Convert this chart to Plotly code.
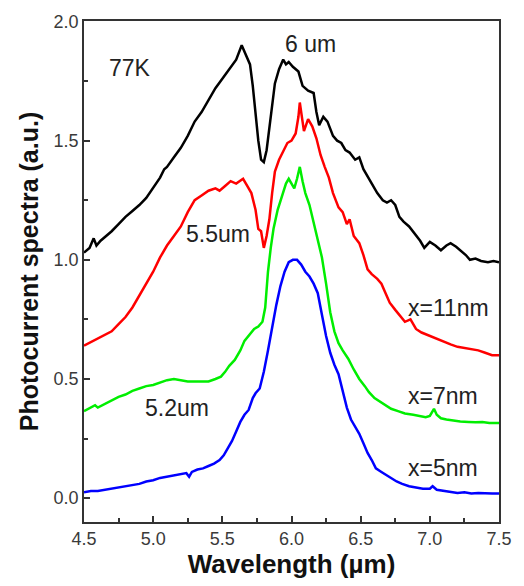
import plotly.graph_objects as go

black_x = [4.50,4.54,4.57,4.59,4.62,4.66,4.70,4.75,4.80,4.85,4.90,4.95,5.00,5.05,5.08,5.10,5.15,5.20,5.25,5.30,5.35,5.40,5.45,5.50,5.55,5.60,5.64,5.67,5.70,5.72,5.74,5.76,5.78,5.80,5.82,5.84,5.86,5.88,5.91,5.94,5.96,5.98,6.01,6.05,6.08,6.12,6.16,6.18,6.20,6.23,6.26,6.30,6.33,6.36,6.39,6.42,6.46,6.49,6.52,6.56,6.58,6.62,6.66,6.69,6.72,6.75,6.78,6.81,6.85,6.89,6.93,6.96,7.00,7.04,7.08,7.12,7.15,7.19,7.22,7.26,7.29,7.33,7.37,7.42,7.46,7.50]
black_y = [1.03,1.05,1.09,1.06,1.08,1.10,1.12,1.15,1.18,1.205,1.23,1.26,1.30,1.345,1.38,1.39,1.43,1.47,1.52,1.58,1.62,1.67,1.72,1.76,1.80,1.84,1.90,1.86,1.82,1.73,1.61,1.50,1.42,1.41,1.46,1.55,1.66,1.74,1.80,1.84,1.82,1.83,1.81,1.79,1.73,1.71,1.70,1.62,1.565,1.60,1.58,1.52,1.50,1.49,1.46,1.45,1.42,1.43,1.38,1.34,1.32,1.28,1.25,1.24,1.25,1.23,1.18,1.16,1.14,1.11,1.08,1.05,1.075,1.06,1.04,1.06,1.07,1.055,1.04,1.02,1.0,1.005,0.995,0.99,0.995,0.99]

red_x = [4.50,4.55,4.60,4.65,4.70,4.75,4.80,4.85,4.90,4.95,5.00,5.05,5.10,5.15,5.20,5.25,5.30,5.35,5.40,5.45,5.48,5.52,5.56,5.60,5.65,5.68,5.71,5.74,5.76,5.78,5.80,5.82,5.84,5.86,5.88,5.91,5.94,5.97,6.00,6.03,6.05,6.06,6.08,6.09,6.12,6.15,6.18,6.21,6.24,6.27,6.30,6.34,6.37,6.40,6.42,6.45,6.49,6.52,6.55,6.58,6.62,6.65,6.68,6.71,6.75,6.79,6.82,6.86,6.90,6.94,6.98,7.02,7.06,7.10,7.15,7.20,7.25,7.30,7.35,7.40,7.45,7.50]
red_y = [0.64,0.655,0.67,0.685,0.70,0.73,0.76,0.80,0.85,0.90,0.95,1.01,1.06,1.10,1.14,1.20,1.25,1.27,1.29,1.30,1.29,1.31,1.33,1.32,1.34,1.31,1.28,1.21,1.13,1.12,1.05,1.10,1.17,1.28,1.37,1.42,1.455,1.49,1.50,1.53,1.60,1.66,1.58,1.54,1.59,1.56,1.51,1.44,1.39,1.345,1.28,1.22,1.20,1.15,1.17,1.10,1.07,1.02,0.96,0.94,0.92,0.90,0.86,0.82,0.79,0.76,0.74,0.75,0.71,0.695,0.685,0.675,0.665,0.655,0.645,0.635,0.63,0.625,0.62,0.61,0.60,0.60]

green_x = [4.50,4.55,4.58,4.60,4.65,4.70,4.75,4.80,4.85,4.90,4.95,5.00,5.05,5.10,5.15,5.20,5.25,5.30,5.35,5.40,5.45,5.49,5.52,5.55,5.59,5.63,5.66,5.70,5.73,5.76,5.79,5.81,5.83,5.85,5.87,5.90,5.93,5.96,5.98,6.00,6.02,6.04,6.06,6.08,6.10,6.13,6.16,6.19,6.22,6.25,6.28,6.31,6.34,6.37,6.41,6.45,6.49,6.53,6.56,6.60,6.64,6.68,6.72,6.77,6.82,6.88,6.93,6.97,7.00,7.03,7.05,7.08,7.12,7.17,7.22,7.28,7.33,7.38,7.43,7.50]
green_y = [0.365,0.38,0.39,0.38,0.395,0.41,0.425,0.435,0.45,0.46,0.47,0.475,0.485,0.495,0.50,0.495,0.49,0.49,0.49,0.49,0.50,0.51,0.53,0.555,0.58,0.62,0.66,0.69,0.71,0.72,0.74,0.80,0.95,1.05,1.13,1.21,1.27,1.32,1.34,1.32,1.30,1.34,1.39,1.33,1.28,1.23,1.16,1.08,1.01,0.90,0.78,0.70,0.65,0.62,0.585,0.54,0.50,0.47,0.445,0.42,0.405,0.39,0.375,0.365,0.355,0.35,0.345,0.34,0.345,0.375,0.35,0.335,0.33,0.325,0.322,0.32,0.318,0.32,0.315,0.315]

blue_x = [4.50,4.55,4.60,4.65,4.70,4.75,4.80,4.85,4.90,4.95,5.00,5.05,5.10,5.15,5.20,5.24,5.26,5.28,5.32,5.36,5.40,5.44,5.48,5.51,5.54,5.57,5.60,5.63,5.66,5.69,5.72,5.74,5.77,5.80,5.83,5.86,5.89,5.92,5.95,5.98,6.01,6.04,6.07,6.10,6.13,6.16,6.19,6.22,6.25,6.28,6.31,6.34,6.37,6.40,6.43,6.46,6.49,6.52,6.55,6.58,6.61,6.65,6.69,6.72,6.76,6.80,6.85,6.90,6.95,7.00,7.02,7.05,7.10,7.15,7.20,7.25,7.30,7.35,7.40,7.45,7.50]
blue_y = [0.025,0.03,0.03,0.035,0.04,0.045,0.05,0.055,0.06,0.07,0.075,0.085,0.09,0.095,0.10,0.105,0.09,0.11,0.12,0.125,0.135,0.145,0.16,0.18,0.21,0.24,0.28,0.32,0.35,0.37,0.42,0.44,0.46,0.53,0.62,0.72,0.81,0.89,0.95,0.99,1.0,1.0,0.98,0.95,0.93,0.90,0.86,0.77,0.68,0.61,0.56,0.52,0.45,0.38,0.33,0.30,0.27,0.23,0.19,0.16,0.125,0.11,0.095,0.085,0.07,0.06,0.05,0.045,0.04,0.04,0.05,0.035,0.03,0.025,0.022,0.025,0.02,0.022,0.02,0.02,0.02]

series = [
    ("x=11nm", black_x, black_y, "#000000"),
    ("x=7nm red", red_x, red_y, "#ff0000"),
    ("x=7nm", green_x, green_y, "#00ee00"),
    ("x=5nm", blue_x, blue_y, "#0000ff"),
]

labels = ["77K", "6 um", "5.5um", "5.2um", "x=11nm", "x=7nm", "x=5nm"]
label_x = [4.83, 6.136, 5.471, 5.171, 7.136, 7.093, 7.093]
label_y = [1.805, 1.905, 1.11, 0.377, 0.799, 0.427, 0.128]

x_range = [4.5, 7.5]
y_range = [-0.1, 2.002]
x_major = [4.5, 5.0, 5.5, 6.0, 6.5, 7.0, 7.5]
y_major = [0.0, 0.5, 1.0, 1.5, 2.0]

FONT = "Liberation Sans, Arial"
AXCOL = "#333333"

fig = go.Figure()
for name, xs, ys, col in series:
    fig.add_trace(go.Scatter(x=xs, y=ys, mode="lines", name=name,
                             line=dict(color=col, width=2.5), showlegend=False,
                             hoverinfo="skip"))

for t, lx, ly in zip(labels, label_x, label_y):
    fig.add_annotation(x=lx, y=ly, text=t, showarrow=False,
                       font=dict(family=FONT, size=23, color="#222"))

def make_axis(rng, tickvals, title, standoff, tsize):
    return dict(
        range=rng, tickmode="array", tickvals=tickvals,
        ticktext=[f"{v:.1f}" for v in tickvals],
        showline=True, linecolor=AXCOL, linewidth=1.5, mirror=True,
        ticks="inside", ticklen=6, tickwidth=1.5, tickcolor=AXCOL,
        minor=dict(ticks="inside", ticklen=4, tickwidth=1.5, tickcolor=AXCOL,
                   tickvals=[(a + b) / 2 for a, b in zip(tickvals[:-1], tickvals[1:])]),
        showgrid=False, zeroline=False,
        tickfont=dict(family=FONT, size=18, color="#3a3a3a"),
        title=dict(text=title, standoff=standoff,
                   font=dict(family=FONT, size=tsize, color="#111")),
    )

fig.update_layout(
    width=524, height=586,
    margin=dict(l=84, r=20, t=15, b=63),
    paper_bgcolor="white", plot_bgcolor="white",
    xaxis=make_axis(x_range, x_major, "<b>Wavelength (µm)</b>", 6, 26),
    yaxis=make_axis(y_range, y_major, "<b>Photocurrent spectra (a.u.)</b>", 8, 25),
    hovermode=False,
)

post = "document.body.style.margin='0';"
fig.write_html("out.html", config={"displayModeBar": False}, post_script=post)
